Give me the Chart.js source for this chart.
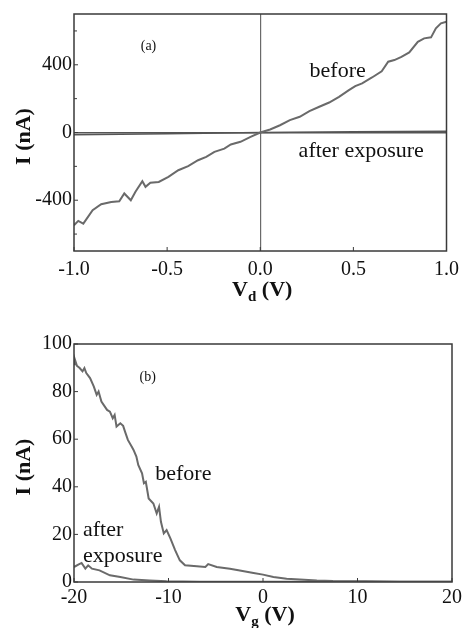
<!DOCTYPE html>
<html>
<head>
<meta charset="utf-8">
<script src="https://cdn.jsdelivr.net/npm/chart.js@4.4.0/dist/chart.umd.min.js"></script>
<style>
  body { margin: 0; background: #fff; }
  #wrapA { position: absolute; left: 0; top: 0; width: 466px; height: 310px; }
  #wrapB { position: absolute; left: 0; top: 310px; width: 466px; height: 318px; }
</style>
</head>
<body>
<div id="wrapA"><canvas id="chartA"></canvas></div>
<div id="wrapB"><canvas id="chartB"></canvas></div>
<script>
// ---- panel (a): I vs Vd ----
const vdBefore = [-1.0, -0.977, -0.95, -0.9, -0.854, -0.80, -0.757, -0.73, -0.695, -0.67, -0.633, -0.616,
  -0.59, -0.545, -0.493, -0.44, -0.387, -0.334, -0.29, -0.246, -0.193, -0.158, -0.106, -0.052, 0,
  0.053, 0.106, 0.159, 0.212, 0.264, 0.317, 0.37, 0.423, 0.476, 0.51, 0.547, 0.60, 0.652, 0.687,
  0.72, 0.758, 0.80, 0.846, 0.88, 0.917, 0.943, 0.97, 1.0];
const iBeforeA = [-548, -522, -538, -459, -424, -410, -406, -360, -400, -350, -288, -321,
  -297, -292, -262, -223, -199, -164, -144, -114, -95, -71, -55, -26, 0,
  18, 43, 73, 93, 126, 152, 177, 211, 250, 274, 290, 325, 362, 418,
  428, 447, 473, 536, 556, 562, 615, 645, 654];
const vdAfter = [-1.0, -0.5, 0, 0.5, 1.0];
const iAfterA = [-14, -7, 0, 4, 7];
const vdTicks = [-1.0, -0.5, 0, 0.5, 1.0];
const iTicksA = [-600, -400, -200, 0, 200, 400, 600];
const iLabelsA = [-400, 0, 400];

// ---- panel (b): I vs Vg ----
const vgBefore = [-20, -19.9, -19.7, -19.4, -19.1, -18.9, -18.7, -18.3, -17.9, -17.6, -17.4, -17.1,
  -16.5, -16.2, -15.9, -15.7, -15.5, -15.1, -14.8, -14.6, -14.3, -13.9, -13.7, -13.4, -13.2,
  -12.8, -12.6, -12.4, -12.1, -11.6, -11.25, -11.0, -10.8, -10.5, -10.2, -9.8, -9.3, -8.8, -8.25,
  -7.0, -6.1, -5.8, -4.9, -3.5, -2.6, -1.0, 0, 1.1, 2.5, 3.9, 5.7, 7.4, 10.9, 14.5, 20];
const iBeforeB = [91.5, 93.4, 90.9, 89.9, 88.5, 89.9, 87.8, 85.7, 82.1, 78.6, 80.0, 75.8,
  72.3, 71.6, 68.8, 70.2, 65.3, 66.7, 65.6, 63.2, 59.7, 56.9, 55.5, 52.7, 49.2,
  45.7, 41.5, 42.1, 35.1, 33.0, 28.8, 31.6, 25.3, 20.4, 21.8, 18.3, 13.4, 9.1, 7.0,
  6.6, 6.3, 7.5, 6.3, 5.6, 4.9, 3.8, 3.1, 2.1, 1.4, 1.0, 0.6, 0.4, 0.3, 0.15, 0.1];
const vgAfter = [-20, -19.5, -19.2, -18.8, -18.5, -18.1, -17.3, -16.2, -15.1, -13.7, -12.0, -10.2, -6.7, 0, 10, 20];
const iAfterB = [6.3, 7.4, 8.0, 5.6, 7.0, 5.6, 4.9, 2.8, 2.1, 1.0, 0.6, 0.3, 0.15, 0.1, 0.1, 0.1];
const vgTicks = [-20, -10, 0, 10, 20];
const iTicksB = [0, 20, 40, 60, 80, 100];

const serif = '"Liberation Serif", "Times New Roman", serif';
const curveColor = '#6a6a6a';

function pts(xs, ys) {
  return xs.map((x, i) => ({ x: x, y: ys[i] }));
}

// frame, inward ticks, axis titles and text notes
const paperPlugin = {
  id: 'paper',
  afterDraw(chart, args, opts) {
    const ctx = chart.ctx;
    const a = chart.chartArea;
    const xs = chart.scales.x, ys = chart.scales.y;
    ctx.save();
    ctx.strokeStyle = '#3a3a3a';
    ctx.lineWidth = 1.5;
    ctx.strokeRect(a.left, a.top, a.right - a.left, a.bottom - a.top);

    ctx.lineWidth = 1;
    ctx.beginPath();
    xs.ticks.forEach(t => {
      const px = xs.getPixelForValue(t.value);
      ctx.moveTo(px, a.bottom);
      ctx.lineTo(px, a.bottom - 4);
    });
    ys.ticks.forEach(t => {
      const py = ys.getPixelForValue(t.value);
      ctx.moveTo(a.left, py);
      ctx.lineTo(a.left + (t.label ? 4 : 3), py);
    });
    ctx.stroke();

    // x title with subscript
    ctx.fillStyle = '#111';
    const big = 'bold 22px ' + serif, small = 'bold 15px ' + serif;
    ctx.font = big;
    const wV = ctx.measureText(opts.xMain).width;
    const wR = ctx.measureText(opts.xRest).width;
    ctx.font = small;
    const wS = ctx.measureText(opts.xSub).width;
    let x0 = (a.left + a.right) / 2 - (wV + wS + wR) / 2 + 2;
    const base = a.bottom + opts.titleGap;
    ctx.textBaseline = 'alphabetic';
    ctx.textAlign = 'left';
    ctx.font = big;
    ctx.fillText(opts.xMain, x0, base);
    ctx.font = small;
    ctx.fillText(opts.xSub, x0 + wV, base + 5);
    ctx.font = big;
    ctx.fillText(opts.xRest, x0 + wV + wS, base);

    // y title rotated
    ctx.save();
    ctx.translate(24, (a.top + a.bottom) / 2 + 4);
    ctx.rotate(-Math.PI / 2);
    ctx.textAlign = 'center';
    ctx.textBaseline = 'middle';
    ctx.font = big;
    ctx.fillText(opts.yTitle, 0, 0);
    ctx.restore();

    // notes in data units
    opts.notes.forEach(n => {
      ctx.font = n.size + 'px ' + serif;
      ctx.textAlign = n.align || 'left';
      ctx.textBaseline = 'alphabetic';
      ctx.fillText(n.text, xs.getPixelForValue(n.x), ys.getPixelForValue(n.y));
    });
    ctx.restore();
  }
};

function makeChart(id, cfg) {
  return new Chart(document.getElementById(id), {
    type: 'line',
    data: { datasets: cfg.datasets },
    options: {
      responsive: true,
      maintainAspectRatio: false,
      animation: false,
      layout: { padding: { top: cfg.top, right: 14, left: 0, bottom: 0 } },
      elements: { point: { radius: 0 }, line: { tension: 0 } },
      plugins: {
        legend: { display: false },
        tooltip: { enabled: false },
        paper: cfg.paper
      },
      scales: {
        x: {
          type: 'linear',
          min: cfg.xMin, max: cfg.xMax,
          afterBuildTicks: s => { s.ticks = cfg.xTicks.map(v => ({ value: v })); },
          afterFit: s => { s.height = cfg.xHeight; },
          border: { display: false },
          grid: {
            drawTicks: false,
            lineWidth: 1.2,
            color: c => (cfg.zeroLines && c.tick && c.tick.value === 0) ? '#6a6a6a' : 'rgba(0,0,0,0)'
          },
          ticks: {
            autoSkip: false,
            maxRotation: 0,
            padding: cfg.xPad,
            color: '#111',
            font: { family: serif, size: 20 },
            callback: cfg.xFmt
          }
        },
        y: {
          type: 'linear',
          min: cfg.yMin, max: cfg.yMax,
          afterBuildTicks: s => { s.ticks = cfg.yTicks.map(v => ({ value: v })); },
          afterFit: s => { s.width = 74; },
          border: { display: false },
          grid: {
            drawTicks: false,
            lineWidth: 1.5,
            color: c => (cfg.zeroLines && c.tick && c.tick.value === 0) ? '#555' : 'rgba(0,0,0,0)'
          },
          ticks: {
            autoSkip: false,
            padding: 2,
            color: '#111',
            font: { family: serif, size: 20 },
            callback: cfg.yFmt
          }
        }
      }
    },
    plugins: [paperPlugin]
  });
}

makeChart('chartA', {
  top: 13, xHeight: 59, xPad: 7, zeroLines: true,
  xMin: -1, xMax: 1, yMin: -700, yMax: 700,
  xTicks: vdTicks, yTicks: iTicksA,
  xFmt: v => Number(v).toFixed(1),
  yFmt: v => iLabelsA.includes(v) ? String(v) : '',
  datasets: [
    { label: 'before', data: pts(vdBefore, iBeforeA), borderColor: curveColor, borderWidth: 2 },
    { label: 'after exposure', data: pts(vdAfter, iAfterA), borderColor: '#555', borderWidth: 1.5 }
  ],
  paper: {
    xMain: 'V', xSub: 'd', xRest: ' (V)', titleGap: 45, yTitle: 'I (nA)',
    notes: [
      { text: '(a)', x: -0.6, y: 490, size: 14, align: 'center' },
      { text: 'before', x: 0.265, y: 329, size: 22 },
      { text: 'after exposure', x: 0.206, y: -145, size: 22 }
    ]
  }
});

makeChart('chartB', {
  top: 34, xHeight: 46, xPad: 4, zeroLines: false,
  xMin: -20, xMax: 20, yMin: 0, yMax: 100,
  xTicks: vgTicks, yTicks: iTicksB,
  xFmt: v => String(v),
  yFmt: v => String(v),
  datasets: [
    { label: 'before', data: pts(vgBefore, iBeforeB), borderColor: curveColor, borderWidth: 2 },
    { label: 'after exposure', data: pts(vgAfter, iAfterB), borderColor: curveColor, borderWidth: 2 }
  ],
  paper: {
    xMain: 'V', xSub: 'g', xRest: ' (V)', titleGap: 39, yTitle: 'I (nA)',
    notes: [
      { text: '(b)', x: -12.2, y: 84.5, size: 14, align: 'center' },
      { text: 'before', x: -11.4, y: 42.8, size: 22 },
      { text: 'after', x: -19.05, y: 19.2, size: 22 },
      { text: 'exposure', x: -19.05, y: 8.4, size: 22 }
    ]
  }
});
</script>
</body>
</html>
